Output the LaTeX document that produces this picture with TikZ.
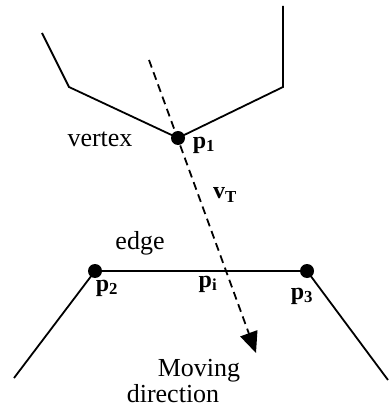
\documentclass[tikz,border=0pt]{standalone}
\usepackage{fontspec}
\setmainfont{Liberation Serif}
\usetikzlibrary{arrows.meta}
\begin{document}
\begin{tikzpicture}[x=1pt,y=-1pt,line width=1.8pt,
  dot/.style={circle,fill=black,inner sep=0pt,minimum size=14pt},
  lbl/.style={font=\fontsize{26}{30}\selectfont,inner sep=0pt,anchor=base},
  plbl/.style={font=\fontsize{24}{28}\selectfont\bfseries,inner sep=0pt},
  movearrow/.style={dash pattern=on 8pt off 5pt,-{Triangle[length=21pt,width=18pt]}}]
\useasboundingbox (0,0) rectangle (388,411);
% upper polyline
\coordinate (a1) at (42,33);
\coordinate (a2) at (69,87);
\node[dot] (p1) at (178,138) {};
\coordinate (a3) at (283,87);
\coordinate (a4) at (283,6);
\draw (a1) -- (a2) -- (p1.center) -- (a3) -- (a4);
% lower polyline
\coordinate (b1) at (14,378);
\node[dot] (p2) at (95,271) {};
\node[dot] (p3) at (307,271) {};
\coordinate (b2) at (388,380);
\draw (b1) -- (p2.center) -- (p3.center) -- (b2);
% moving direction
\coordinate (s) at (149,60);
\coordinate (t) at (256,353);
\draw[movearrow] (s) -- (t);
% labels
\node[lbl] (vertex) at (100,147) {vertex};
\node[lbl] (edge) at (140,249) {edge};
\node[lbl] (moving) at (199,376) {Moving};
\node[lbl] (dir) at (173,402) {direction};
\node[plbl] (lp1) at (204,145) {p\textsubscript{1}};
\node[plbl] (lvt) at (225,195) {v\textsubscript{T}};
\node[plbl] (lp2) at (107,288) {p\textsubscript{2}};
\node[plbl] (lpi) at (208,284) {p\textsubscript{i}};
\node[plbl] (lp3) at (302,296) {p\textsubscript{3}};
\end{tikzpicture}
\end{document}
